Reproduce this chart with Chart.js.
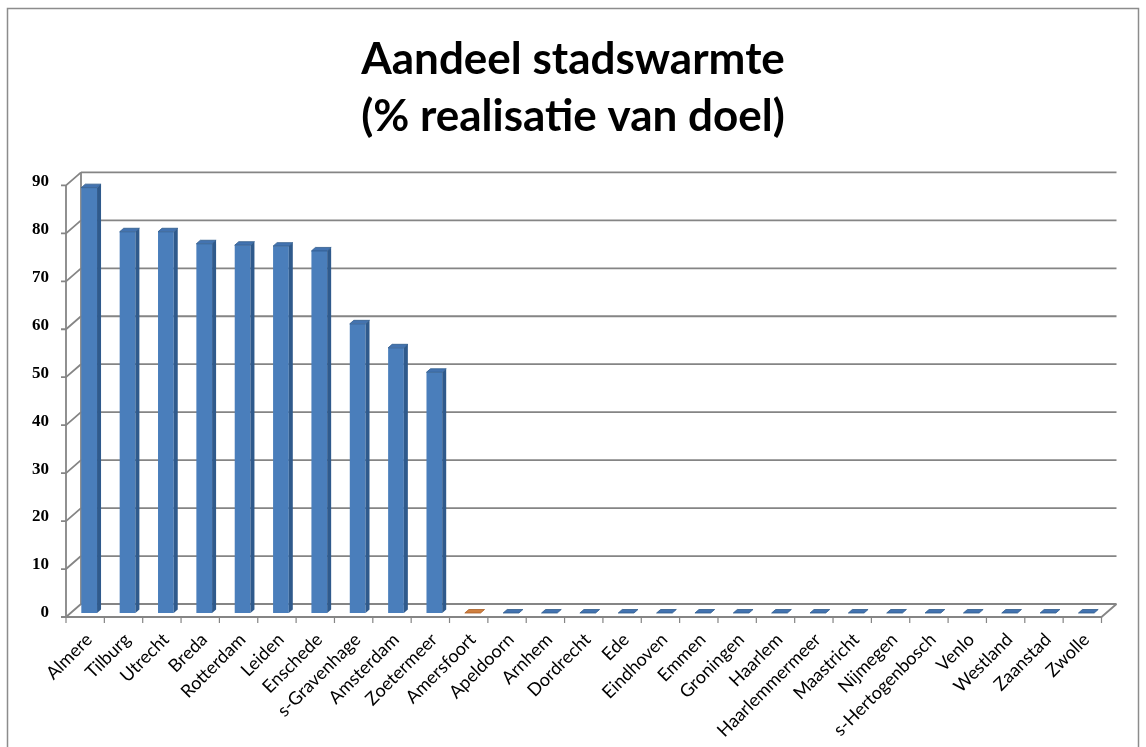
<!DOCTYPE html>
<html>
<head>
<meta charset="utf-8">
<script src="https://cdn.jsdelivr.net/npm/chart.js@4/dist/chart.umd.min.js"></script>
<style>
  html, body { margin: 0; padding: 0; background: #ffffff; }
  #wrap { width: 1146px; height: 747px; position: relative; }
</style>
</head>
<body>
<div id="wrap"><canvas id="c" width="1146" height="747"></canvas></div>
<script>
// ---- data ----
const titleLines = ['Aandeel stadswarmte', '(% realisatie van doel)'];
const categories = ['Almere', 'Tilburg', 'Utrecht', 'Breda', 'Rotterdam', 'Leiden', 'Enschede',
  's-Gravenhage', 'Amsterdam', 'Zoetermeer', 'Amersfoort', 'Apeldoorn', 'Arnhem', 'Dordrecht',
  'Ede', 'Eindhoven', 'Emmen', 'Groningen', 'Haarlem', 'Haarlemmermeer', 'Maastricht',
  'Nijmegen', 's-Hertogenbosch', 'Venlo', 'Westland', 'Zaanstad', 'Zwolle'];
const values = [88.7, 79.5, 79.5, 77.0, 76.7, 76.5, 75.5, 60.3, 55.3, 50.2, 0,
  0, 0, 0, 0, 0, 0, 0, 0, 0, 0, 0, 0, 0, 0, 0, 0];
const yTickValues = [0, 10, 20, 30, 40, 50, 60, 70, 80, 90];
const highlighted = ['Amersfoort'];

// ---- style ----
const BLUE = { front: '#4a7ebb', side: '#2f5a8c', top: '#4373b0', edge: '#2f5a8c' };
const ORANGE = { front: '#d88440', side: '#a85e26', top: '#d0803f', edge: '#a85e26' };
const FRONT = { dx: -4, dy: 4 };   // front plane offset from bar plane
const BACK = { dx: 11, dy: -9 };   // back wall offset from bar plane
const DEPTH = { dx: 4, dy: -3.5 }; // bar depth
const GRID = '#858585';

const palette = categories.map(c => highlighted.includes(c) ? ORANGE : BLUE);

const framePlugin = {
  id: 'frame',
  beforeDraw(chart) {
    const ctx = chart.ctx;
    ctx.save();
    ctx.fillStyle = '#ffffff';
    ctx.fillRect(0, 0, chart.width, chart.height);
    ctx.strokeStyle = '#8c8c8c';
    ctx.lineWidth = 1.5;
    ctx.strokeRect(7.5, 8.5, 1131, 760);
    ctx.restore();
  },
  beforeDatasetsDraw(chart) {
    const ctx = chart.ctx;
    const { left: L, right: R } = chart.chartArea;
    const ys = chart.scales.y;
    const y0 = ys.getPixelForValue(0);
    const yTop = ys.getPixelForValue(yTickValues[yTickValues.length - 1]);
    ctx.save();
    ctx.strokeStyle = GRID;
    ctx.lineWidth = 1.8;
    yTickValues.forEach(v => {
      const y = ys.getPixelForValue(v);
      ctx.beginPath();
      ctx.moveTo(L + BACK.dx, y + BACK.dy);
      ctx.lineTo(R + BACK.dx, y + BACK.dy);
      ctx.stroke();
      ctx.beginPath();
      ctx.moveTo(L + FRONT.dx - 5, y + FRONT.dy);
      ctx.lineTo(L + FRONT.dx, y + FRONT.dy);
      ctx.lineTo(L + BACK.dx, y + BACK.dy);
      ctx.stroke();
    });
    ctx.beginPath();
    ctx.moveTo(L + FRONT.dx, y0 + FRONT.dy);
    ctx.lineTo(L + FRONT.dx, yTop + FRONT.dy);
    ctx.moveTo(L + BACK.dx, y0 + BACK.dy);
    ctx.lineTo(L + BACK.dx, yTop + BACK.dy);
    ctx.stroke();
    ctx.beginPath();
    ctx.moveTo(L + FRONT.dx, y0 + FRONT.dy);
    ctx.lineTo(R + FRONT.dx, y0 + FRONT.dy);
    ctx.lineTo(R + BACK.dx, y0 + BACK.dy);
    ctx.stroke();
    const n = categories.length;
    const step = (R - L) / n;
    ctx.lineWidth = 1.2;
    ctx.beginPath();
    for (let i = 0; i <= n; i++) {
      const x = L + FRONT.dx + i * step;
      ctx.moveTo(x, y0 + FRONT.dy);
      ctx.lineTo(x, y0 + FRONT.dy + 6);
    }
    ctx.stroke();
    ctx.restore();
  },
  afterDatasetsDraw(chart) {
    const ctx = chart.ctx;
    const meta = chart.getDatasetMeta(0);
    ctx.save();
    meta.data.forEach((bar, i) => {
      const p = bar.getProps(['x', 'y', 'base', 'width'], true);
      const c = palette[i];
      const xl = p.x - p.width / 2, xr = p.x + p.width / 2;
      if (p.base - p.y > 0.5) {
        ctx.fillStyle = c.side;
        ctx.beginPath();
        ctx.moveTo(xr, p.y);
        ctx.lineTo(xr + DEPTH.dx, p.y + DEPTH.dy);
        ctx.lineTo(xr + DEPTH.dx, p.base + DEPTH.dy);
        ctx.lineTo(xr, p.base);
        ctx.closePath();
        ctx.fill();
      }
      ctx.fillStyle = c.top;
      ctx.strokeStyle = c.edge;
      ctx.lineWidth = 0.8;
      ctx.beginPath();
      ctx.moveTo(xl, p.y);
      ctx.lineTo(xl + DEPTH.dx, p.y + DEPTH.dy);
      ctx.lineTo(xr + DEPTH.dx, p.y + DEPTH.dy);
      ctx.lineTo(xr, p.y);
      ctx.closePath();
      ctx.fill();
      ctx.stroke();
    });
    ctx.restore();
  }
};

new Chart(document.getElementById('c'), {
  type: 'bar',
  data: {
    labels: categories,
    datasets: [{
      data: values,
      backgroundColor: palette.map(p => p.front),
      borderWidth: 0,
      barPercentage: 0.41,
      categoryPercentage: 1.0
    }]
  },
  options: {
    responsive: false,
    devicePixelRatio: 1,
    animation: false,
    layout: { padding: 0 },
    plugins: {
      legend: { display: false },
      tooltip: { enabled: false },
      title: {
        display: true,
        text: titleLines,
        color: '#000000',
        font: { family: 'Lato', size: 44, weight: 'bold', lineHeight: 1.3 },
        padding: { top: 31, bottom: 36 }
      }
    },
    scales: {
      x: {
        grid: { display: false, drawTicks: false },
        border: { display: false },
        ticks: {
          autoSkip: false,
          minRotation: 45,
          maxRotation: 45,
          padding: 16,
          labelOffset: 0,
          color: '#000000',
          font: { family: 'Lato', size: 18 }
        },
        afterFit(s) { s.height = 134; }
      },
      y: {
        min: 0,
        max: 90,
        grid: { display: false, drawTicks: false },
        border: { display: false },
        ticks: {
          stepSize: 10,
          padding: 21,
          color: '#000000',
          font: { family: 'Liberation Serif', size: 17, weight: 'bold' }
        },
        afterFit(s) { s.width = 70; }
      },
      y2: {
        position: 'right',
        display: true,
        grid: { display: false, drawTicks: false },
        border: { display: false },
        ticks: { display: false },
        afterFit(s) { s.width = 40.5; }
      }
    }
  },
  plugins: [framePlugin]
});
</script>
</body>
</html>
